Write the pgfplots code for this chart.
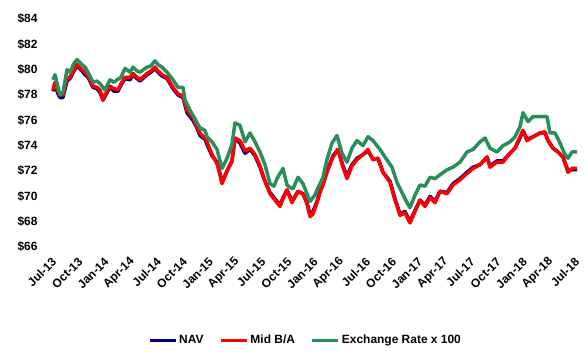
\documentclass[border=0pt]{standalone}
\usepackage{pgfplots}
\pgfplotsset{compat=1.18}
\usepackage{pgfplotstable}
\usepackage{fontspec}
\setmainfont{Liberation Sans}
\definecolor{navc}{RGB}{0,0,128}
\definecolor{midc}{RGB}{255,0,0}
\definecolor{fxc}{RGB}{40,142,90}

\pgfplotstableread{
px v
53 79.2
55 79.6
58 78.6
60 78.0
63 78.2
67 80.0
70 79.8
74 80.5
77 80.8
82 80.4
85 80.2
88 79.8
93 79.0
97 79.1
100 78.9
105 78.4
110 79.2
114 79.0
117 79.2
121 79.4
125 80.1
130 79.8
133 80.2
137 79.9
140 79.8
147 80.2
151 80.3
155 80.7
158 80.4
162 80.2
167 79.8
173 79.2
178 78.6
183 78.6
185 77.6
190 76.8
193 76.4
197 75.8
200 75.4
205 75.2
207 74.7
212 74.3
217 73.7
222 72.2
227 73.0
232 74.1
235 75.8
240 75.6
245 74.3
250 75.0
255 74.3
260 73.5
265 72.5
270 71.0
274 70.8
277 71.4
283 72.2
287 70.9
290 70.7
293 70.6
298 71.5
303 71.0
307 70.2
310 69.6
315 70.1
317 70.5
323 71.5
327 72.9
332 74.2
337 74.8
342 73.4
347 72.7
352 73.8
357 74.4
363 74.0
368 74.7
373 74.4
380 73.7
385 73.1
392 72.3
397 71.1
402 70.3
407 69.5
410 69.1
415 70.1
420 70.9
425 70.8
430 71.5
435 71.4
440 71.7
447 72.1
453 72.3
460 72.7
467 73.5
473 73.7
480 74.3
485 74.6
490 73.8
497 73.5
503 74.0
510 74.3
515 74.7
520 75.5
523 76.6
528 75.9
533 76.3
540 76.3
547 76.3
550 75.0
555 75.0
560 74.2
565 73.3
568 73.0
572 73.5
577 73.5
}\fxdata

\pgfplotstableread{
px v
53 78.4
55 79.0
58 78.3
60 78.0
63 78.0
67 79.3
70 79.4
74 80.0
77 80.4
82 80.0
85 79.8
88 79.5
93 78.7
97 78.6
100 78.4
103 77.6
105 78.0
110 78.7
114 78.5
118 78.4
121 78.9
125 79.4
130 79.4
133 79.7
137 79.4
140 79.2
147 79.7
151 79.9
155 80.2
158 79.9
162 79.6
167 79.4
173 78.6
178 78.1
183 77.9
187 76.8
190 76.5
193 76.2
197 75.5
200 75.0
205 74.6
207 74.3
212 73.3
217 72.6
220 71.7
222 71.0
227 72.0
232 72.8
235 74.6
240 74.4
245 73.6
250 73.8
255 73.3
260 72.4
263 71.7
265 71.2
270 70.2
274 69.8
280 69.2
283 69.8
287 70.5
290 69.9
292 69.5
298 70.4
303 70.2
307 69.4
310 68.4
313 68.6
317 69.5
320 70.3
323 70.9
327 71.9
333 73.1
338 73.7
343 72.3
347 71.4
352 72.4
357 72.9
363 73.3
368 73.7
373 72.9
378 73.0
383 71.9
390 71.1
395 69.7
400 68.5
405 68.7
410 67.9
415 68.8
420 69.7
425 69.2
430 69.9
435 69.5
440 70.4
447 70.2
453 70.9
460 71.3
467 71.8
473 72.2
480 72.5
487 73.1
490 72.3
497 72.7
503 72.7
510 73.4
515 73.8
520 74.7
523 75.2
527 74.4
533 74.7
540 75.0
545 75.1
548 74.4
553 73.8
558 73.5
563 73.1
568 71.9
572 72.2
577 72.2
}\middata

\pgfplotstableread{
px v
53 78.3
55 78.8
58 78.1
60 77.8
63 77.8
67 79.1
70 79.3
74 79.9
77 80.3
82 79.9
85 79.6
88 79.4
93 78.6
97 78.5
100 78.2
103 77.6
105 77.9
110 78.6
114 78.3
118 78.3
121 78.8
125 79.3
130 79.2
133 79.6
137 79.3
140 79.1
147 79.6
151 79.8
155 80.1
158 79.8
162 79.5
167 79.3
173 78.5
178 78.0
183 77.8
187 76.6
190 76.3
193 76.0
197 75.4
200 74.8
205 74.5
207 74.1
212 73.2
217 72.7
220 71.8
222 71.1
227 72.0
232 72.8
235 74.6
240 74.2
245 73.4
250 73.7
255 73.2
260 72.3
263 71.6
265 71.2
270 70.3
274 69.9
280 69.3
283 69.9
287 70.5
290 70.0
292 69.6
298 70.4
303 70.2
307 69.5
310 68.6
313 68.8
317 69.6
320 70.4
323 71.0
327 72.0
333 73.2
338 73.7
343 72.4
347 71.6
352 72.5
357 73.0
363 73.3
368 73.6
373 72.9
378 73.0
383 71.9
390 71.2
395 69.8
400 68.6
405 68.8
410 68.0
415 68.9
420 69.7
425 69.3
430 70.0
435 69.6
440 70.4
447 70.3
453 71.0
460 71.4
467 71.9
473 72.3
480 72.5
487 73.1
490 72.4
497 72.8
503 72.8
510 73.4
515 73.8
520 74.6
523 75.2
527 74.5
533 74.7
540 75.0
545 75.0
548 74.4
553 73.8
558 73.5
563 73.1
568 72.0
572 72.1
577 72.1
}\navdata

\begin{document}
\begin{tikzpicture}
\path[use as bounding box] (0,0) rectangle (588bp,357bp);
\begin{axis}[
  at={(53bp,110bp)}, anchor=south west,
  scale only axis,
  width=525bp, height=228bp,
  xmin=53, xmax=578,
  ymin=66, ymax=84,
  axis line style={draw=none},
  major tick length=0pt,
  ytick={66,68,70,72,74,76,78,80,82,84},
  yticklabels={\$66,\$68,\$70,\$72,\$74,\$76,\$78,\$80,\$82,\$84},
  xtick={55,81.15,107.3,133.45,159.6,185.75,211.9,238.05,264.2,290.35,316.5,342.65,368.8,394.95,421.1,447.25,473.4,499.55,525.7,551.85,578},
  xticklabels={Jul-13,Oct-13,Jan-14,Apr-14,Jul-14,Oct-14,Jan-15,Apr-15,Jul-15,Oct-15,Jan-16,Apr-16,Jul-16,Oct-16,Jan-17,Apr-17,Jul-17,Oct-17,Jan-18,Apr-18,Jul-18},
  ticklabel style={font=\bfseries\fontsize{12}{14}\selectfont},
  yticklabel style={xshift=-12bp},
  xticklabel style={yshift=-12bp, rotate=45, anchor=east, inner sep=1bp},
  legend style={at={(0.481,-0.408)}, anchor=center, draw=none, fill=none,
    font=\bfseries\fontsize{12}{14}\selectfont,
    /tikz/every even column/.append style={column sep=14bp}},
  legend columns=3,
  legend image code/.code={\draw[#1, line width=3bp] (0bp,0bp) -- (26bp,0bp);},
  clip=false,
]
\addplot[navc, line width=3.5bp, line join=round] table[x=px,y=v] {\navdata};
\addlegendentry{NAV}
\addplot[midc, line width=3.5bp, line join=round] table[x=px,y=v] {\middata};
\addlegendentry{Mid B/A}
\addplot[fxc, line width=3.5bp, line join=round] table[x=px,y=v] {\fxdata};
\addlegendentry{Exchange Rate x 100}
\end{axis}
\end{tikzpicture}
\end{document}
